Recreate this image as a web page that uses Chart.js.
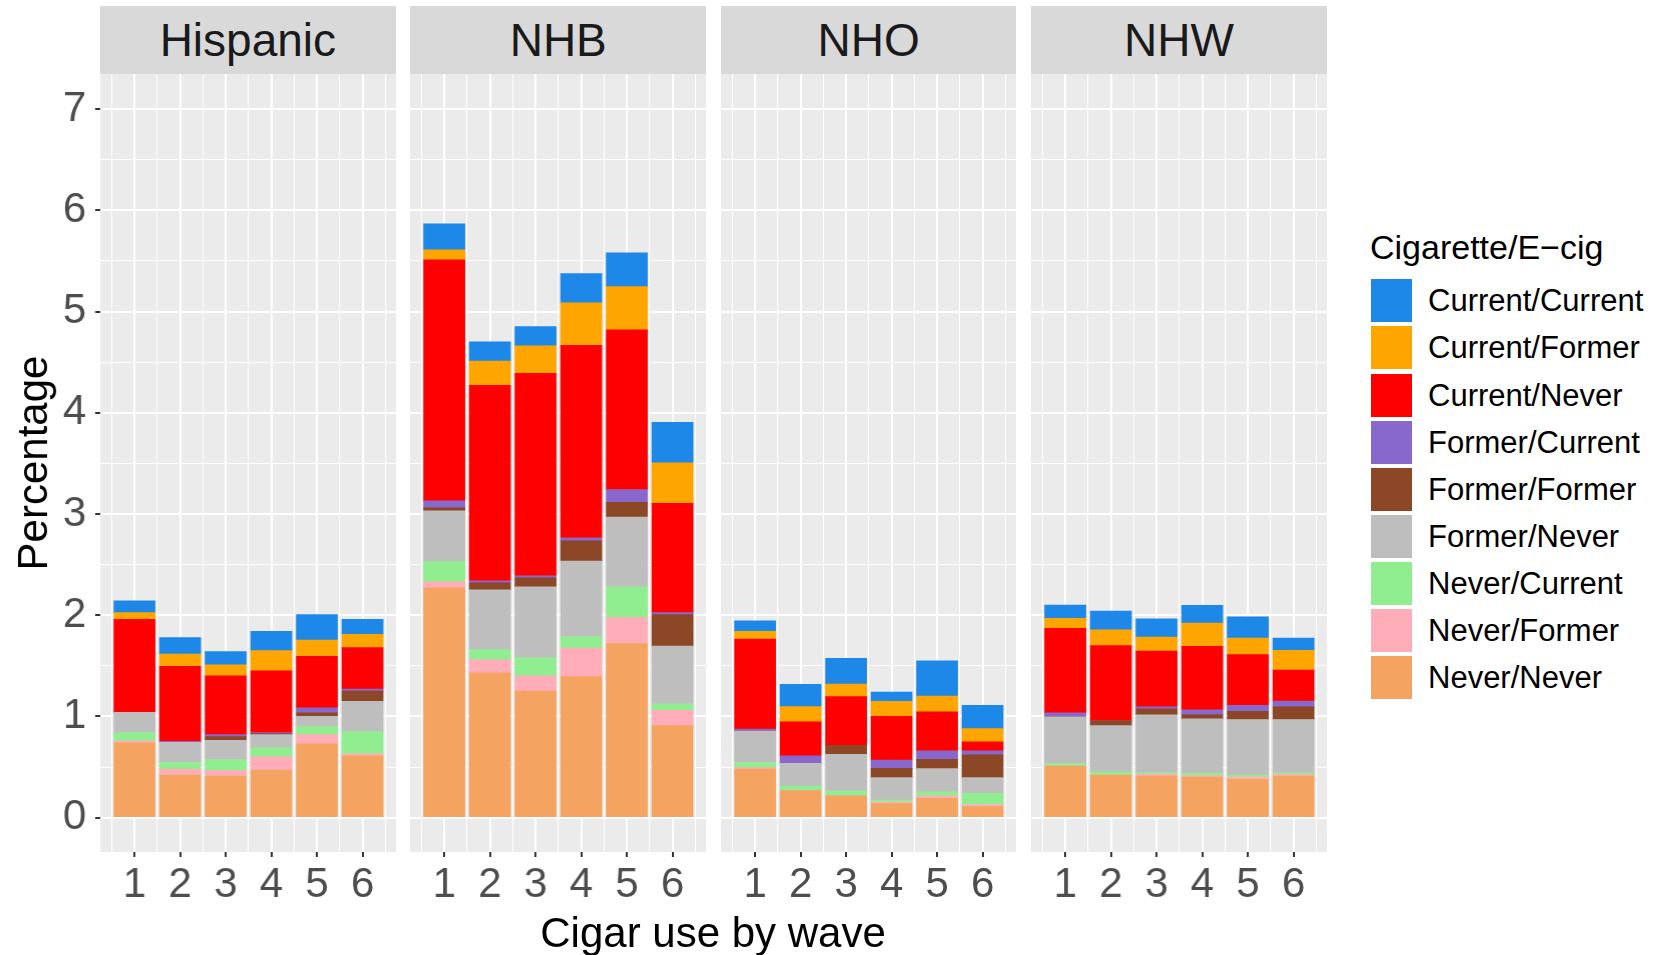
<!DOCTYPE html>
<html>
<head>
<meta charset="utf-8">
<script src="https://cdn.jsdelivr.net/npm/chart.js@4.4.0/dist/chart.umd.min.js"></script>
<style>
  body { margin: 0; width: 1659px; height: 955px; background: #fff; position: relative; overflow: hidden;
         font-family: "Liberation Sans", Arial, sans-serif; }
  .strip { position: absolute; top: 5.7px; height: 68.3px; background: #d9d9d9; color: #1a1a1a;
           font-size: 46px; display: flex; align-items: center; justify-content: center; }
  .panel { position: absolute; top: 74px; height: 838px; }
  .xtitle { position: absolute; left: 100px; width: 1226px; top: 912px; line-height: 42px; font-size: 42px;
            text-align: center; color: #000; }
  .ltitle { position: absolute; left: 1370px; top: 230px; line-height: 34px; font-size: 34px; color: #000; white-space: nowrap; }
  .lkey { position: absolute; left: 1370.7px; width: 41.7px; height: 43px; }
  .ltext { position: absolute; left: 1428px; height: 43px; line-height: 43px; font-size: 31px; color: #000; white-space: nowrap; }
</style>
</head>
<body>
<div id="root"></div>
<div class="xtitle">Cigar use by wave</div>
<script>
var waves = [1, 2, 3, 4, 5, 6];
var groups = ['Hispanic', 'NHB', 'NHO', 'NHW'];
var categories = ['Current/Current', 'Current/Former', 'Current/Never', 'Former/Current', 'Former/Former',
                  'Former/Never', 'Never/Current', 'Never/Former', 'Never/Never'];
var colors = ['#1e88e8', '#ffa500', '#ff0000', '#8968cd', '#8b4726', '#bebebe', '#90ee90', '#ffaeb9', '#f4a460'];

// one row per category (same order as categories), one value per wave
var hispanic = [
  [0.115, 0.165, 0.13, 0.19, 0.25, 0.15],
  [0.066, 0.12, 0.11, 0.2, 0.16, 0.13],
  [0.92, 0.74, 0.58, 0.61, 0.51, 0.41],
  [0, 0.01, 0.02, 0.01, 0.05, 0.02],
  [0, 0, 0.035, 0.01, 0.035, 0.1],
  [0.2, 0.2, 0.19, 0.13, 0.1, 0.3],
  [0.08, 0.065, 0.11, 0.09, 0.08, 0.22],
  [0.02, 0.06, 0.055, 0.13, 0.09, 0.02],
  [0.74, 0.42, 0.41, 0.47, 0.73, 0.61]
];
var nhb = [
  [0.255, 0.19, 0.19, 0.29, 0.335, 0.4],
  [0.1, 0.24, 0.27, 0.42, 0.425, 0.4],
  [2.38, 1.93, 2.0, 1.9, 1.58, 1.08],
  [0.07, 0.02, 0.02, 0.03, 0.125, 0.02],
  [0.03, 0.07, 0.09, 0.2, 0.145, 0.31],
  [0.5, 0.59, 0.7, 0.745, 0.69, 0.57],
  [0.2, 0.1, 0.18, 0.115, 0.3, 0.065],
  [0.06, 0.13, 0.15, 0.28, 0.26, 0.15],
  [2.27, 1.43, 1.25, 1.395, 1.72, 0.91]
];
var nho = [
  [0.105, 0.22, 0.255, 0.09, 0.35, 0.23],
  [0.075, 0.15, 0.125, 0.15, 0.155, 0.13],
  [0.89, 0.335, 0.48, 0.43, 0.385, 0.09],
  [0.02, 0.075, 0, 0.083, 0.083, 0.04],
  [0, 0, 0.09, 0.092, 0.092, 0.225],
  [0.31, 0.225, 0.36, 0.22, 0.23, 0.155],
  [0.05, 0.045, 0.05, 0.02, 0.04, 0.11],
  [0.015, 0, 0, 0.015, 0.025, 0.02],
  [0.48, 0.267, 0.215, 0.14, 0.19, 0.11]
];
var nhw = [
  [0.13, 0.185, 0.18, 0.175, 0.21, 0.12],
  [0.1, 0.155, 0.14, 0.23, 0.165, 0.195],
  [0.835, 0.74, 0.55, 0.627, 0.5, 0.307],
  [0.04, 0, 0.02, 0.05, 0.06, 0.056],
  [0, 0.05, 0.06, 0.04, 0.08, 0.125],
  [0.46, 0.46, 0.57, 0.535, 0.55, 0.53],
  [0.025, 0.03, 0.015, 0.026, 0.02, 0.015],
  [0, 0, 0.02, 0.015, 0.02, 0.015],
  [0.51, 0.42, 0.41, 0.4, 0.38, 0.41]
];
var groupValues = [hispanic, nhb, nho, nhw];
var yTicks = [0, 1, 2, 3, 4, 5, 6, 7];

Chart.defaults.font.family = '"Liberation Sans", Arial, sans-serif';

var panelLeft = [100, 410.4, 720.8, 1031.2];
var panelWidth = 295.7;
var root = document.getElementById('root');

// grid lines at every half unit (major on whole numbers, like ggplot)
function halfSteps(list) {
  var out = [];
  var lo = list[0] - 0.5, hi = list[list.length - 1] + 0.5;
  if (list[0] === 0) lo = 0;
  if (list === yTicks) hi = list[list.length - 1];
  for (var v = lo; v <= hi + 1e-9; v += 0.5) out.push({ value: v });
  return out;
}
function isMajor(ctx) { return ctx.tick && Number.isInteger(ctx.tick.value); }

var panelBg = {
  id: 'panelBg',
  beforeDraw: function(chart) {
    var a = chart.chartArea, c = chart.ctx;
    c.save();
    c.fillStyle = '#ebebeb';
    c.fillRect(a.left, a.top, a.right - a.left, a.bottom - a.top);
    c.restore();
  }
};

groups.forEach(function(name, g) {
  var first = g === 0;
  var strip = document.createElement('div');
  strip.className = 'strip';
  strip.style.left = panelLeft[g] + 'px';
  strip.style.width = panelWidth + 'px';
  strip.textContent = name;
  root.appendChild(strip);

  var box = document.createElement('div');
  box.className = 'panel';
  var left = first ? 0 : panelLeft[g];
  box.style.left = left + 'px';
  box.style.width = (panelLeft[g] + panelWidth - left) + 'px';
  var canvas = document.createElement('canvas');
  box.appendChild(canvas);
  root.appendChild(box);

  var values = groupValues[g];
  var datasets = [];
  for (var i = categories.length - 1; i >= 0; i--) {
    datasets.push({
      label: categories[i],
      backgroundColor: colors[i],
      borderWidth: 0,
      barThickness: 41,
      data: waves.map(function(w, j) { return { x: w, y: values[i][j] }; })
    });
  }

  new Chart(canvas, {
    type: 'bar',
    data: { datasets: datasets },
    plugins: [panelBg],
    options: {
      responsive: true,
      maintainAspectRatio: false,
      animation: false,
      layout: { padding: 0 },
      plugins: { legend: { display: false }, tooltip: { enabled: false } },
      scales: {
        x: {
          type: 'linear', min: 0.25, max: 6.75, bounds: 'data', stacked: true, offset: false,
          afterBuildTicks: function(s) { s.ticks = halfSteps(waves); },
          afterFit: function(s) { s.height = 60; s.paddingLeft = 0; s.paddingRight = 0; },
          border: { display: false },
          grid: {
            offset: false,
            color: '#ffffff',
            lineWidth: function(ctx) { return isMajor(ctx) ? 2 : 1; },
            tickColor: function(ctx) { return isMajor(ctx) ? '#333333' : 'rgba(0,0,0,0)'; },
            tickLength: 5, tickWidth: 2
          },
          ticks: {
            autoSkip: false, maxRotation: 0, padding: 3, color: '#4d4d4d', font: { size: 42 },
            callback: function(v) { return Number.isInteger(v) ? String(v) : ''; }
          }
        },
        y: {
          min: -0.339, max: 7.346, bounds: 'data', stacked: true,
          afterBuildTicks: function(s) { s.ticks = halfSteps(yTicks); },
          afterFit: function(s) { s.width = first ? 100 : 0; s.paddingTop = 0; s.paddingBottom = 0; },
          border: { display: false },
          grid: {
            color: '#ffffff',
            lineWidth: function(ctx) { return isMajor(ctx) ? 2 : 1; },
            tickColor: function(ctx) { return first && isMajor(ctx) ? '#333333' : 'rgba(0,0,0,0)'; },
            drawTicks: first, tickLength: 5, tickWidth: 2
          },
          ticks: {
            display: first, padding: 9, color: '#4d4d4d', font: { size: 42 },
            callback: function(v) { return Number.isInteger(v) ? String(v) : ''; }
          },
          title: {
            display: first, text: 'Percentage', color: '#000', font: { size: 42 },
            padding: { top: 10, bottom: 0 }
          }
        }
      }
    }
  });
});

// legend
var lt = document.createElement('div');
lt.className = 'ltitle';
lt.textContent = 'Cigarette/E\u2212cig';
root.appendChild(lt);
categories.forEach(function(c, i) {
  var top = 279.3 + i * 47.1;
  var k = document.createElement('div');
  k.className = 'lkey';
  k.style.top = top + 'px';
  k.style.background = colors[i];
  root.appendChild(k);
  var t = document.createElement('div');
  t.className = 'ltext';
  t.style.top = top + 'px';
  t.textContent = c;
  root.appendChild(t);
});
</script>
</body>
</html>
